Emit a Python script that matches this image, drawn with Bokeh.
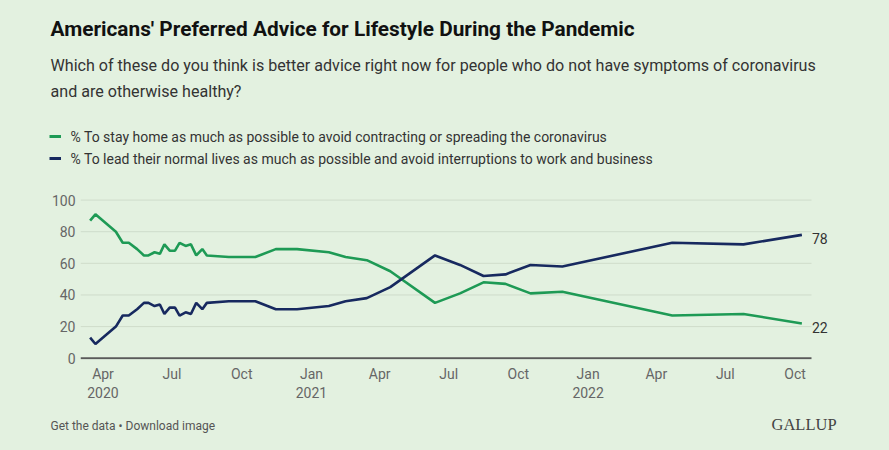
import pandas as pd
from bokeh.plotting import figure
from bokeh.layouts import column
from bokeh.models import Range1d, FixedTicker, ColumnDataSource
from bokeh.core.properties import value
from bokeh.embed import file_html
from bokeh.resources import INLINE

# Survey field dates and the share choosing each piece of advice (%)
dates = ["2020-03-15", "2020-03-22", "2020-04-18", "2020-04-27", "2020-05-05",
         "2020-05-16", "2020-05-25", "2020-05-31", "2020-06-08", "2020-06-15",
         "2020-06-21", "2020-06-28", "2020-07-05", "2020-07-11", "2020-07-19",
         "2020-07-26", "2020-08-02", "2020-08-10", "2020-08-16", "2020-09-14",
         "2020-10-19", "2020-11-15", "2020-12-13", "2021-01-24", "2021-02-15",
         "2021-03-15", "2021-04-15", "2021-06-13", "2021-07-16", "2021-08-16",
         "2021-09-14", "2021-10-17", "2021-11-28", "2022-04-22", "2022-07-25",
         "2022-10-10"]
stay_home = [87, 91, 80, 73, 73, 69, 65, 65, 67, 66, 72, 68, 68, 73, 71, 72,
             65, 69, 65, 64, 64, 69, 69, 67, 64, 62, 55, 35, 41, 48, 47, 41,
             42, 27, 28, 22]
normal_lives = [13, 9, 20, 27, 27, 31, 35, 35, 33, 34, 28, 32, 32, 27, 29, 28,
                35, 31, 35, 36, 36, 31, 31, 33, 36, 38, 45, 65, 59, 52, 53, 59,
                58, 73, 72, 78]

tick_dates = ["2020-04-01", "2020-07-01", "2020-10-01", "2021-01-01",
              "2021-04-01", "2021-07-01", "2021-10-01", "2022-01-01",
              "2022-04-01", "2022-07-01", "2022-10-01"]
tick_labels = ["Apr\n2020", "Jul", "Oct", "Jan\n2021", "Apr", "Jul", "Oct",
               "Jan\n2022", "Apr", "Jul", "Oct"]
y_ticks = [0, 20, 40, 60, 80, 100]

title = "Americans' Preferred Advice for Lifestyle During the Pandemic"
subtitle = ["Which of these do you think is better advice right now for people who do not have symptoms of coronavirus",
            "and are otherwise healthy?"]
series_names = [
    "% To stay home as much as possible to avoid contracting or spreading the coronavirus",
    "% To lead their normal lives as much as possible and avoid interruptions to work and business",
]
footer = "Get the data \u2022 Download image"
brand = "GALLUP"

BG = "#e3f1e0"
GREEN = "#1e9a55"
NAVY = "#17295f"
FONT = "Roboto"
W = 889


def ms(d):
    return pd.Timestamp(d).value / 1e6


def blank(height, y_top, y_bottom):
    """A bare canvas whose data space equals page pixels (y grows downward)."""
    f = figure(width=W, height=height, output_backend="svg", toolbar_location=None,
               x_range=Range1d(0, W), y_range=Range1d(y_bottom, y_top),
               x_axis_location=None, y_axis_location=None, min_border=0)
    if "frame_align" in f.properties():
        f.frame_align = False
    f.grid.visible = False
    f.background_fill_color = BG
    f.border_fill_color = BG
    f.outline_line_color = None
    f.styles = {"background-color": BG}
    return f


# ---- header: title, question and legend ----
head = blank(185, 0, 185)
head.text(x=[50], y=[28], text=[title], text_baseline="middle",
          text_font=value(FONT), text_font_size="20.8px", text_font_style="bold",
          text_color="#111111")
head.text(x=[50, 50], y=[65, 91], text=subtitle, text_baseline="middle",
          text_font=value(FONT), text_font_size="16.1px", text_color="#333333")
head.segment(x0=[49, 49], y0=[136, 158], x1=[60.5, 60.5], y1=[136, 158],
             line_color=[GREEN, NAVY], line_width=3)
head.text(x=[70, 70], y=[136, 158], text=series_names, text_baseline="middle",
          text_font=value(FONT), text_font_size="14px", text_color="#333333")

# ---- main chart ----
apr1 = pd.Timestamp("2020-04-01")
px_per_day = 0.758
day = pd.Timedelta(days=1)
x_start = apr1 - day * ((102.5 - 80) / px_per_day)
x_end = apr1 + day * ((W - 102.5) / px_per_day)
grid_end = apr1 + day * ((811 - 102.5) / px_per_day)

xs = [ms(d) for d in dates]
src = ColumnDataSource(dict(x=xs, home=stay_home, normal=normal_lives))

p = figure(width=W, height=220, output_backend="svg", toolbar_location=None,
           x_range=Range1d(ms(x_start), ms(x_end)),
           y_range=Range1d(-0.8, 101),
           min_border_left=80, min_border_right=0,
           min_border_top=13, min_border_bottom=46)
p.background_fill_color = BG
p.border_fill_color = BG
p.outline_line_color = None
p.styles = {"background-color": BG}
p.grid.visible = False

# horizontal gridlines and the zero baseline
n = len(y_ticks) - 1
p.segment(x0=[ms(x_start)] * n, x1=[ms(grid_end)] * n, y0=y_ticks[1:],
          y1=y_ticks[1:], line_color="#cfdccb", line_width=1)
p.segment(x0=[ms(x_start)], x1=[ms(grid_end)], y0=[0], y1=[0],
          line_color="#5a5a5a", line_width=2)

p.line("x", "home", source=src, line_color=GREEN, line_width=2.6)
p.line("x", "normal", source=src, line_color=NAVY, line_width=2.6)

# values at the end of each line
p.text(x=[xs[-1], xs[-1]], y=[normal_lives[-1], stay_home[-1]],
       text=[str(normal_lives[-1]), str(stay_home[-1])],
       x_offset=10, y_offset=4, text_baseline="middle",
       text_font=value(FONT), text_font_size="14px", text_color="#333333")

p.xaxis.ticker = FixedTicker(ticks=[ms(d) for d in tick_dates])
p.xaxis.major_label_overrides = {ms(d): lab for d, lab in zip(tick_dates, tick_labels)}
p.yaxis.ticker = FixedTicker(ticks=y_ticks)
for ax in (p.xaxis, p.yaxis):
    ax.axis_line_color = None
    ax.major_tick_line_color = None
    ax.minor_tick_line_color = None
    ax.major_tick_out = 0
    ax.major_tick_in = 0
    ax.major_label_text_font = FONT
    ax.major_label_text_font_size = "14px"
    ax.major_label_text_color = "#666666"
p.xaxis.major_label_standoff = 6
p.yaxis.major_label_standoff = 5

# ---- footer ----
foot = blank(45, 405, 450)
foot.text(x=[50], y=[425], text=[footer], text_baseline="middle",
          text_font=value(FONT), text_font_size="12px", text_color="#555555")
foot.text(x=[771], y=[424], text=[brand], text_baseline="middle",
          text_font=value("Liberation Serif"), text_font_size="16.5px",
          text_color="#444444")

layout = column(head, p, foot, spacing=0)
layout.styles = {"background-color": BG}
open("out.html", "w").write(file_html(layout, INLINE))
